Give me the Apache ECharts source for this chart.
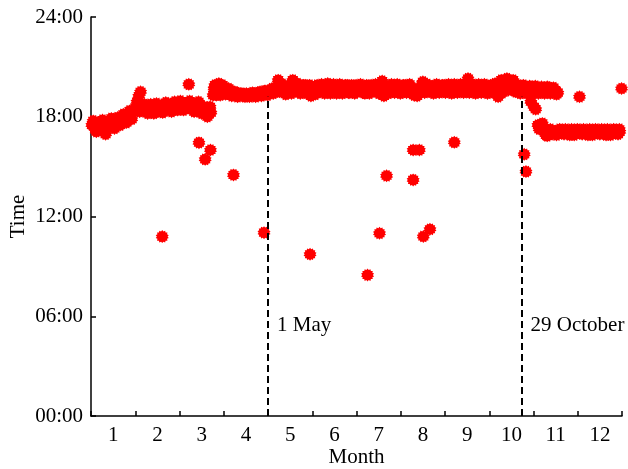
<!DOCTYPE html>
<html>
<head>
<meta charset="utf-8">
<script src="https://cdn.jsdelivr.net/npm/echarts@6/dist/echarts.min.js"></script>
<style>
  html, body { margin: 0; padding: 0; background: #fff; }
  #main { width: 628px; height: 469px; }
</style>
</head>
<body>
<div id="main"></div>
<script>
// x = month position (0 = start of Jan, 12 = end of Dec), y = hour of day
var monthLabels = ['1', '2', '3', '4', '5', '6', '7', '8', '9', '10', '11', '12'];

var winterBand = [
  [0.02, 17.5], [0.09, 17.3], [0.16, 17.6], [0.23, 17.45], [0.29, 17.15], [0.36, 17.55],
  [0.43, 17.7], [0.50, 17.5], [0.56, 17.8], [0.63, 17.7], [0.70, 17.95], [0.77, 17.85],
  [0.84, 18.1], [0.90, 18.0], [0.95, 18.3], [1.00, 18.55], [1.04, 18.9], [1.08, 19.25],
  [1.12, 19.5], [1.10, 18.3], [1.15, 18.5],
  [1.18, 18.5], [1.24, 18.35], [1.31, 18.55], [1.38, 18.4], [1.45, 18.6], [1.51, 18.3],
  [1.58, 18.5], [1.65, 18.65], [1.72, 18.45], [1.79, 18.7], [1.85, 18.5], [1.92, 18.75],
  [1.99, 18.55], [2.06, 18.8], [2.12, 18.6], [2.19, 18.85], [2.26, 18.5], [2.33, 18.3],
  [2.40, 18.7], [2.46, 18.55], [2.53, 18.35], [2.60, 18.2], [2.67, 18.45], [2.71, 18.25]
];

var winterBandB = [
  [0.05, 17.75], [0.12, 17.1], [0.19, 17.35], [0.26, 17.8], [0.33, 16.95], [0.40, 17.4],
  [0.46, 17.9], [0.53, 17.3], [0.60, 17.95], [0.66, 17.5], [0.73, 18.15], [0.80, 17.65],
  [0.87, 18.35], [0.92, 17.85],
  [1.21, 18.75], [1.28, 18.2], [1.35, 18.75], [1.42, 18.2], [1.48, 18.8], [1.55, 18.45],
  [1.62, 18.25], [1.69, 18.85], [1.76, 18.55], [1.82, 18.3], [1.89, 18.9], [1.96, 18.4],
  [2.02, 18.95], [2.09, 18.4], [2.16, 18.7], [2.23, 18.95], [2.29, 18.7], [2.36, 18.6],
  [2.43, 18.9], [2.50, 18.2], [2.56, 18.6], [2.63, 18.0], [2.69, 18.6]
];

var summerBand = [
  [2.76, 19.3], [2.80, 19.9], [2.85, 19.6], [2.89, 20.0], [2.94, 19.5], [3.01, 19.8],
  [3.07, 19.4], [3.14, 19.6], [3.21, 19.3], [3.28, 19.45], [3.34, 19.25], [3.41, 19.4],
  [3.48, 19.2], [3.55, 19.35], [3.62, 19.25], [3.68, 19.4], [3.75, 19.3], [3.82, 19.5],
  [3.89, 19.35], [3.95, 19.55], [4.02, 19.45], [4.09, 19.7], [4.16, 19.5], [4.23, 20.2],
  [4.29, 19.6], [4.36, 19.8], [4.43, 19.5], [4.50, 19.9], [4.56, 20.2], [4.63, 19.6],
  [4.70, 19.8], [4.77, 19.5], [4.84, 19.9], [4.90, 19.6], [4.97, 19.25], [5.04, 19.7],
  [5.11, 19.9], [5.18, 19.5], [5.24, 19.8], [5.31, 19.6], [5.38, 19.9], [5.45, 19.55],
  [5.51, 19.75], [5.58, 19.5], [5.65, 19.85], [5.72, 19.6], [5.79, 19.9], [5.85, 19.45],
  [5.92, 19.7], [5.99, 19.9], [6.06, 19.55], [6.12, 19.8], [6.19, 19.4], [6.26, 19.7],
  [6.33, 19.9], [6.40, 19.6], [6.46, 19.8], [6.53, 19.5], [6.58, 20.15], [6.62, 19.25],
  [6.69, 19.75], [6.76, 19.5], [6.82, 19.85], [6.89, 19.6], [6.96, 19.8], [7.03, 19.5],
  [7.10, 19.9], [7.16, 19.6], [7.23, 19.75], [7.30, 19.3], [7.37, 19.25], [7.44, 19.6],
  [7.50, 20.1], [7.57, 19.7], [7.64, 19.5], [7.71, 19.85], [7.77, 19.6], [7.84, 19.8],
  [7.91, 19.55], [7.98, 19.9], [8.05, 19.6], [8.11, 19.8], [8.18, 19.5], [8.25, 19.85],
  [8.32, 19.6], [8.38, 19.9], [8.45, 19.65], [8.52, 20.3], [8.59, 19.6], [8.66, 19.8],
  [8.72, 19.5], [8.79, 19.85], [8.86, 19.6], [8.93, 19.8], [8.99, 19.55], [9.06, 19.85],
  [9.13, 20.0], [9.20, 19.2], [9.27, 20.2], [9.33, 19.6], [9.40, 20.3], [9.47, 19.7],
  [9.54, 20.2], [9.60, 19.5], [9.67, 19.8], [9.73, 19.6], [9.81, 19.75], [9.88, 19.5],
  [9.94, 19.8], [10.01, 19.6], [10.08, 19.75], [10.15, 19.5], [10.21, 19.7], [10.28, 19.55],
  [10.35, 19.75], [10.42, 19.5], [10.49, 19.6], [10.55, 19.45]
];

var summerBandB = [
  [2.78, 19.7], [2.83, 19.3], [2.87, 19.4], [2.92, 19.3], [2.97, 19.9], [3.04, 19.35],
  [3.11, 19.7], [3.18, 19.25], [3.25, 19.5], [3.31, 19.2], [3.38, 19.4], [3.45, 19.25],
  [3.51, 19.4], [3.58, 19.2], [3.65, 19.45], [3.72, 19.2], [3.79, 19.45], [3.85, 19.25],
  [3.92, 19.55], [3.99, 19.3], [4.06, 19.6], [4.12, 19.4], [4.19, 19.8], [4.26, 19.5],
  [4.33, 19.95], [4.40, 19.35], [4.46, 19.75], [4.53, 19.4], [4.60, 19.8], [4.67, 20.0],
  [4.73, 19.4], [4.80, 19.9], [4.87, 19.4], [4.94, 19.9], [5.01, 19.5], [5.07, 19.35],
  [5.14, 19.55], [5.21, 19.95], [5.28, 19.4], [5.35, 20.0], [5.41, 19.4], [5.48, 19.95],
  [5.55, 19.4], [5.62, 19.95], [5.68, 19.4], [5.75, 19.9], [5.82, 19.45], [5.89, 19.9],
  [5.96, 19.4], [6.02, 19.6], [6.09, 19.95], [6.16, 19.45], [6.23, 19.9], [6.29, 19.4],
  [6.36, 19.55], [6.43, 19.95], [6.50, 19.4], [6.56, 19.9], [6.60, 19.6], [6.65, 19.8],
  [6.72, 19.4], [6.79, 19.95], [6.86, 19.45], [6.92, 19.95], [6.99, 19.4], [7.06, 19.9],
  [7.13, 19.45], [7.20, 19.95], [7.26, 19.4], [7.33, 19.6], [7.40, 19.5], [7.47, 19.9],
  [7.54, 19.45], [7.60, 19.95], [7.67, 19.8], [7.74, 19.4], [7.81, 19.95], [7.87, 19.45],
  [7.94, 19.9], [8.01, 19.45], [8.08, 19.95], [8.15, 19.4], [8.21, 19.95], [8.28, 19.45],
  [8.35, 19.95], [8.42, 19.45], [8.48, 19.95], [8.55, 19.45], [8.62, 19.95], [8.69, 19.4],
  [8.76, 19.95], [8.82, 19.45], [8.89, 19.95], [8.96, 19.4], [9.03, 19.9], [9.10, 19.45],
  [9.16, 19.6], [9.23, 19.9], [9.30, 19.45], [9.37, 20.0], [9.43, 19.6], [9.50, 20.1],
  [9.57, 19.55], [9.64, 19.9], [9.70, 19.4], [9.77, 19.9], [9.84, 19.4], [9.91, 19.85],
  [9.98, 19.45], [10.04, 19.85], [10.11, 19.4], [10.18, 19.8], [10.25, 19.4], [10.31, 19.8],
  [10.38, 19.4], [10.45, 19.75], [10.52, 19.35]
];

var octoberDrop = [
  [9.94, 18.9], [10.01, 18.6], [10.05, 18.45]
];

var lateBand = [
  [10.10, 17.5], [10.17, 17.45], [10.24, 17.2], [10.28, 16.9], [10.35, 17.1], [10.42, 16.95],
  [10.49, 17.15], [10.55, 17.0], [10.62, 17.2], [10.69, 16.95], [10.76, 17.1], [10.82, 16.9],
  [10.89, 17.15], [10.96, 17.0], [11.03, 17.2], [11.10, 16.95], [11.16, 17.1], [11.23, 16.9],
  [11.30, 17.15], [11.37, 17.0], [11.44, 17.2], [11.50, 16.95], [11.57, 17.1], [11.64, 16.9],
  [11.71, 17.15], [11.77, 17.0], [11.84, 17.2], [11.91, 16.95], [11.95, 17.1]
];

var lateBandB = [
  [10.13, 17.25], [10.20, 17.6], [10.26, 17.1], [10.31, 16.85], [10.38, 17.25], [10.45, 17.1],
  [10.52, 16.9], [10.59, 17.25], [10.65, 17.05], [10.72, 17.25], [10.79, 17.0], [10.86, 17.25],
  [10.92, 16.9], [10.99, 17.25], [11.06, 17.05], [11.13, 17.25], [11.20, 17.05], [11.27, 17.25],
  [11.33, 16.9], [11.40, 17.25], [11.47, 17.05], [11.54, 17.25], [11.60, 17.05], [11.67, 17.25],
  [11.74, 16.9], [11.81, 17.25], [11.87, 17.05], [11.94, 17.25]
];

var outliers = [
  [1.61, 10.79], [2.21, 19.95], [2.44, 16.44], [2.58, 15.44], [2.70, 16.0], [3.22, 14.5],
  [3.91, 11.03], [4.95, 9.73], [6.25, 8.48], [6.52, 10.99], [6.68, 14.45], [7.28, 16.0],
  [7.42, 16.0], [7.28, 14.2], [7.51, 10.8], [7.66, 11.23], [8.21, 16.46], [9.79, 15.74],
  [9.83, 14.7], [11.04, 19.2], [11.99, 19.7]
];

// vertical markers: [month position, label]
var eventLines = [[4.0, '1 May'], [9.73, '29 October']];
var eventLineTop = 19.2;
var eventLabelHour = 5.47;

var fontFamily = '"Liberation Serif", "Times New Roman", serif';
var fontSize = 21;

// burst-like marker
var starSymbol = function(n, inner) {
  var d = '';
  for (var i = 0; i < 2 * n; i++) {
    var r = i % 2 ? inner : 1;
    var a = i * Math.PI / n;
    var x = 50 + 50 * r * Math.sin(a);
    var y = 50 - 50 * r * Math.cos(a);
    d += (i ? 'L' : 'M') + x.toFixed(2) + ' ' + y.toFixed(2);
  }
  return 'path://' + d + 'Z';
};

var init = function() {
  var myChart = echarts.init(document.getElementById('main'), null, { renderer: 'canvas' });
  var sym = starSymbol(14, 0.8);

  var scatterSeries = function(data) {
    return {
      type: 'scatter',
      xAxisIndex: 1,
      data: data,
      symbol: sym,
      symbolSize: 13,
      z: 3,
      silent: true,
      itemStyle: { color: '#ff0000', opacity: 1 }
    };
  };

  var lineData = eventLines.map(function(e) {
    return [{ coord: [e[0], 0] }, { coord: [e[0], eventLineTop] }];
  });
  var labelData = eventLines.map(function(e) {
    return { name: e[1], coord: [e[0], eventLabelHour] };
  });

  var option = {
    animation: false,
    backgroundColor: '#fff',
    textStyle: { fontFamily: fontFamily },
    grid: { left: 91, right: 6, top: 17, bottom: 53, containLabel: false, outerBoundsMode: 'none' },
    xAxis: [{
      type: 'category',
      data: monthLabels,
      boundaryGap: true,
      name: 'Month',
      nameLocation: 'middle',
      nameGap: 31,
      nameMoveOverlap: false,
      nameTextStyle: { color: '#000', fontSize: fontSize, fontFamily: fontFamily },
      axisLine: { show: true, lineStyle: { color: '#000', width: 1.5 } },
      axisTick: { show: true, inside: true, length: 5, lineStyle: { color: '#000', width: 1.5 } },
      axisLabel: { color: '#000', fontSize: fontSize, fontFamily: fontFamily, margin: 9 },
      splitLine: { show: false }
    }, {
      type: 'value',
      min: 0,
      max: 12,
      show: false
    }],
    yAxis: {
      type: 'value',
      min: 0,
      max: 24,
      interval: 6,
      name: 'Time',
      nameLocation: 'middle',
      nameGap: 62,
      nameMoveOverlap: false,
      nameTextStyle: { color: '#000', fontSize: fontSize, fontFamily: fontFamily },
      axisLine: { show: true, lineStyle: { color: '#000', width: 1.5 } },
      axisTick: { show: true, inside: true, length: 5, lineStyle: { color: '#000', width: 1.5 } },
      axisLabel: {
        color: '#000', fontSize: fontSize, fontFamily: fontFamily, margin: 8,
        formatter: function(v) { return (v < 10 ? '0' : '') + v + ':00'; }
      },
      splitLine: { show: false }
    },
    series: [{
      type: 'scatter',
      xAxisIndex: 1,
      data: [],
      z: 1,
      silent: true,
      markLine: {
        silent: true,
        symbol: ['none', 'none'],
        label: { show: false },
        lineStyle: { color: '#000', width: 2, type: [7, 4] },
        data: lineData
      },
      markPoint: {
        silent: true,
        symbol: 'circle',
        symbolSize: 0,
        label: {
          show: true,
          position: 'right',
          distance: 9,
          formatter: '{b}',
          color: '#000',
          fontSize: fontSize,
          fontFamily: fontFamily
        },
        data: labelData
      }
    },
      scatterSeries(winterBand),
      scatterSeries(winterBandB),
      scatterSeries(summerBand),
      scatterSeries(summerBandB),
      scatterSeries(octoberDrop),
      scatterSeries(lateBand),
      scatterSeries(lateBandB),
      scatterSeries(outliers)
    ]
  };
  myChart.setOption(option);
};

init();
</script>
</body>
</html>
